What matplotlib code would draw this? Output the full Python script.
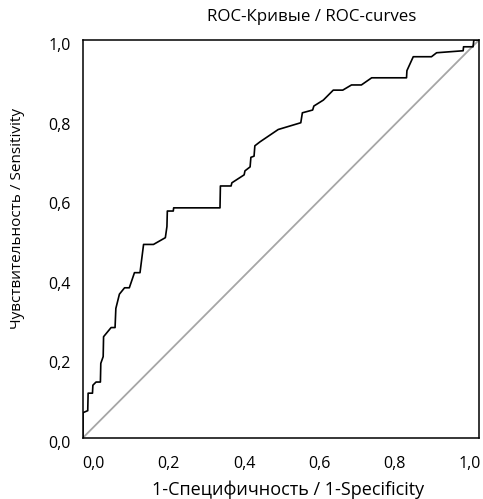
import matplotlib
matplotlib.use('Agg')
import matplotlib.pyplot as plt
import matplotlib.transforms as mtransforms
import numpy as np

plt.rcParams['font.family'] = ['Open Sans', 'DejaVu Sans']

# ROC curve points (1-specificity, sensitivity)
fpr = [0.000, 0.000, 0.012, 0.013, 0.024, 0.025, 0.033, 0.044, 0.045, 0.051,
       0.052, 0.071, 0.081, 0.083, 0.092, 0.105, 0.117, 0.130, 0.144, 0.153,
       0.178, 0.208, 0.212, 0.213, 0.228, 0.229, 0.346, 0.347, 0.374, 0.376,
       0.407, 0.409, 0.422, 0.424, 0.432, 0.434, 0.447, 0.493, 0.550, 0.554,
       0.580, 0.583, 0.607, 0.632, 0.656, 0.678, 0.703, 0.729, 0.817, 0.818,
       0.834, 0.880, 0.893, 0.960, 0.961, 0.985, 0.987, 1.000]
tpr = [0.000, 0.063, 0.068, 0.112, 0.112, 0.132, 0.140, 0.140, 0.187, 0.204,
       0.254, 0.277, 0.277, 0.325, 0.361, 0.377, 0.377, 0.415, 0.415, 0.486,
       0.486, 0.503, 0.531, 0.570, 0.570, 0.578, 0.578, 0.633, 0.633, 0.641,
       0.661, 0.671, 0.681, 0.705, 0.708, 0.734, 0.744, 0.775, 0.792, 0.817,
       0.824, 0.834, 0.849, 0.874, 0.874, 0.887, 0.887, 0.905, 0.905, 0.923,
       0.958, 0.958, 0.968, 0.973, 0.983, 0.983, 1.000, 1.000]

tick_values = [0.0, 0.2, 0.4, 0.6, 0.8, 1.0]
tick_labels = ['0,0', '0,2', '0,4', '0,6', '0,8', '1,0']

fig = plt.figure(figsize=(4.83, 4.99), dpi=100)
ax = fig.add_axes([0.1718, 0.1228, 0.8199, 0.797])

ax.plot([0, 1], [0, 1], color='#a6a6a6', lw=1.3)
ax.plot(fpr, tpr, color='black', lw=1.2)

ax.set_xlim(0, 1)
ax.set_ylim(0, 1)
# the source places the x labels evenly a little inside the axis ends
ax.set_xticks(np.linspace(0.027, 0.977, 6))
ax.set_xticklabels(tick_labels)
ax.set_yticks(tick_values)
ax.set_yticklabels(tick_labels)
ax.tick_params(length=0, labelsize=11.5)
ax.tick_params(axis='x', pad=13)
ax.tick_params(axis='y', pad=9)

shift = mtransforms.ScaledTranslation(0, -4 / 100, fig.dpi_scale_trans)
for lab in ax.get_yticklabels():
    lab.set_transform(lab.get_transform() + shift)

for s in ax.spines.values():
    s.set_linewidth(1.1)
    s.set_color('black')

fig.text(0.645, 0.966, 'ROC-Кривые / ROC-curves', ha='center', va='center', fontsize=12.2)
fig.text(0.596, 0.019, '1-Специфичность / 1-Specificity', ha='center', va='center', fontsize=13)
fig.text(0.037, 0.563, 'Чувствительность / Sensitivity', ha='center', va='center',
         rotation=90, fontsize=11)

plt.savefig('out.png', dpi=100)
